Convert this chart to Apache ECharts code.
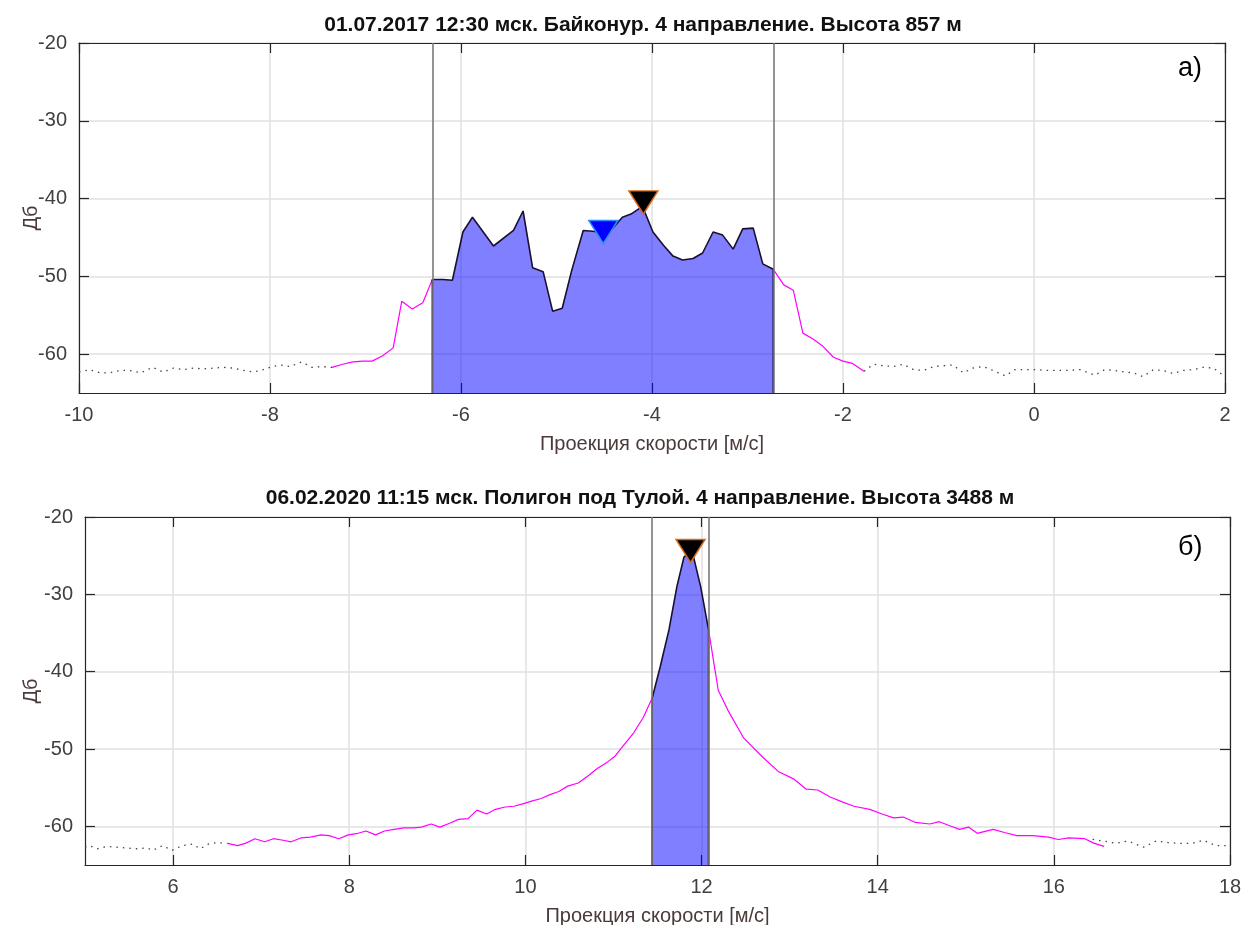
<!DOCTYPE html>
<html>
<head>
<meta charset="utf-8">
<title>Спектры</title>
<script src="https://cdn.jsdelivr.net/npm/echarts@6.0.0/dist/echarts.min.js"></script>
<style>
  html, body { margin: 0; padding: 0; background: #fff; }
  #chart { width: 1243px; height: 925px; }
</style>
</head>
<body>
<div id="chart"></div>
<script>
// ---------- а) Байконур, 01.07.2017 ----------
const titleA = '01.07.2017 12:30 мск. Байконур. 4 направление. Высота 857 м';
const xTicksA = [-10, -8, -6, -4, -2, 0, 2];
const yTicks = [-60, -50, -40, -30, -20];
// шум (точками) слева и справа
const noiseLeftA = [[-10.00,-62.3],[-9.89,-62.0],[-9.78,-62.4],[-9.68,-62.4],[-9.57,-62.1],[-9.47,-62.1],[-9.35,-62.4],[-9.23,-61.7],[-9.12,-62.3],[-9.01,-61.8],[-8.91,-62.0],[-8.80,-61.8],[-8.70,-61.9],[-8.59,-61.8],[-8.49,-61.7],[-8.38,-61.8],[-8.28,-62.1],[-8.17,-62.3],[-8.07,-62.0],[-7.98,-61.6],[-7.89,-61.4],[-7.79,-61.6],[-7.67,-61.0],[-7.56,-61.7],[-7.46,-61.6],[-7.35,-61.7]];
const noiseRightA = [[-1.78,-62.2],[-1.68,-61.3],[-1.58,-61.5],[-1.47,-61.6],[-1.37,-61.3],[-1.26,-62.0],[-1.16,-62.1],[-1.05,-61.6],[-0.95,-61.5],[-0.85,-61.4],[-0.74,-62.4],[-0.64,-61.8],[-0.53,-61.6],[-0.43,-62.1],[-0.30,-62.8],[-0.20,-62.0],[-0.08,-62.0],[0.03,-62.0],[0.13,-62.1],[0.24,-62.1],[0.34,-62.1],[0.48,-62.0],[0.64,-62.7],[0.74,-62.0],[0.85,-62.1],[0.95,-62.3],[1.04,-62.4],[1.14,-62.9],[1.25,-62.0],[1.35,-62.1],[1.46,-62.5],[1.56,-62.1],[1.67,-62.0],[1.77,-61.7],[1.88,-61.8],[1.98,-62.7]];
// спектр вне окна (пурпурный)
const specLeftA = [[-7.35,-61.7],[-7.24,-61.3],[-7.13,-61.0],[-7.03,-60.9],[-6.93,-60.9],[-6.82,-60.2],[-6.71,-59.2],[-6.62,-53.2],[-6.51,-54.2],[-6.40,-53.4],[-6.30,-50.4]];
const specRightA = [[-2.73,-49.1],[-2.62,-51.1],[-2.52,-51.8],[-2.42,-57.3],[-2.31,-58.1],[-2.21,-59.0],[-2.10,-60.4],[-2.00,-60.9],[-1.90,-61.2],[-1.78,-62.2]];
// спектр в окне (заливка)
const windowA = [[-6.30,-50.4],[-6.19,-50.4],[-6.09,-50.5],[-5.98,-44.3],[-5.88,-42.4],[-5.66,-46.1],[-5.45,-44.1],[-5.35,-41.6],[-5.25,-48.9],[-5.14,-49.4],[-5.04,-54.5],[-4.94,-54.1],[-4.84,-49.2],[-4.72,-44.1],[-4.62,-44.2],[-4.51,-44.4],[-4.41,-43.8],[-4.31,-42.4],[-4.22,-42.0],[-4.10,-41.0],[-3.99,-44.3],[-3.88,-46.0],[-3.78,-47.4],[-3.68,-47.9],[-3.57,-47.7],[-3.47,-47.0],[-3.36,-44.3],[-3.26,-44.7],[-3.15,-46.5],[-3.05,-43.9],[-2.94,-43.8],[-2.84,-48.4],[-2.73,-49.1]];
const bordersA = [-6.30, -2.73];
const peakA = [[-4.09, -40.5]];
const peak2A = [[-4.51, -44.3]];

// ---------- б) Полигон под Тулой, 06.02.2020 ----------
const titleB = '06.02.2020 11:15 мск. Полигон под Тулой. 4 направление. Высота 3488 м';
const xTicksB = [6, 8, 10, 12, 14, 16, 18];
const noiseLeftB = [[5.00,-62.7],[5.05,-62.5],[5.14,-62.9],[5.25,-62.6],[5.36,-62.7],[5.47,-62.8],[5.59,-62.9],[5.70,-62.8],[5.77,-63.1],[5.88,-62.5],[5.99,-63.1],[6.10,-62.5],[6.22,-62.3],[6.31,-62.9],[6.40,-62.3],[6.50,-62.1],[6.62,-62.2]];
const noiseRightB = [[16.44,-61.7],[16.57,-61.9],[16.71,-62.2],[16.84,-61.9],[17.02,-62.7],[17.16,-61.9],[17.30,-62.1],[17.43,-62.2],[17.57,-62.2],[17.70,-61.8],[17.84,-62.5],[17.97,-62.5],[18.00,-62.4]];
const specLeftB = [[6.62,-62.2],[6.73,-62.5],[6.82,-62.2],[6.93,-61.6],[7.04,-62.0],[7.14,-61.6],[7.25,-61.8],[7.34,-62.0],[7.45,-61.5],[7.56,-61.4],[7.68,-61.1],[7.77,-61.2],[7.88,-61.6],[7.99,-61.1],[8.10,-60.9],[8.19,-60.6],[8.30,-61.1],[8.40,-60.6],[8.51,-60.4],[8.62,-60.2],[8.73,-60.2],[8.82,-60.1],[8.93,-59.7],[9.03,-60.1],[9.14,-59.6],[9.24,-59.1],[9.35,-59.0],[9.45,-57.9],[9.56,-58.4],[9.66,-57.8],[9.77,-57.5],[9.87,-57.4],[9.97,-57.1],[10.08,-56.7],[10.18,-56.4],[10.28,-55.9],[10.38,-55.5],[10.48,-54.8],[10.60,-54.4],[10.71,-53.5],[10.82,-52.5],[10.93,-51.7],[11.02,-50.9],[11.11,-49.6],[11.23,-47.9],[11.34,-45.9],[11.44,-43.4]];
const specRightB = [[12.08,-34.6],[12.14,-38.9],[12.19,-42.4],[12.30,-45.0],[12.48,-48.6],[12.69,-51.0],[12.87,-52.9],[13.05,-53.9],[13.19,-55.2],[13.32,-55.3],[13.46,-56.2],[13.59,-56.8],[13.73,-57.4],[13.91,-57.8],[14.05,-58.4],[14.18,-58.9],[14.29,-58.8],[14.43,-59.5],[14.59,-59.7],[14.70,-59.4],[14.81,-59.9],[14.93,-60.4],[15.03,-60.1],[15.13,-60.9],[15.31,-60.4],[15.44,-60.8],[15.58,-61.2],[15.76,-61.2],[15.94,-61.4],[16.05,-61.7],[16.17,-61.5],[16.35,-61.6],[16.46,-62.2],[16.57,-62.6]];
const windowB = [[11.44,-43.4],[11.53,-39.4],[11.63,-34.6],[11.72,-29.0],[11.80,-25.2],[11.85,-24.7],[11.91,-25.2],[11.99,-29.0],[12.08,-34.6]];
const bordersB = [11.44, 12.08];
const peakB = [[11.875, -24.4]];

const Y_MIN = -65, Y_MAX = -20;
const FONT = 'Liberation Sans';
const AXIS_COLOR = '#262626';

function mainX(grid, min, max, ticks, gap) {
  return {
    type: 'value', gridIndex: grid, min: min, max: max,
    axisLine: { show: true, onZero: false, lineStyle: { color: AXIS_COLOR, width: 1.2 } },
    axisTick: { show: true, inside: true, length: 10, customValues: ticks, lineStyle: { color: AXIS_COLOR, width: 1.2 } },
    axisLabel: { customValues: ticks, color: '#404040', fontSize: 20, fontFamily: FONT, margin: 12 },
    splitLine: { show: true, lineStyle: { color: '#e0e0e0', width: 1.5 } },
    name: 'Проекция скорости [м/с]', nameLocation: 'middle', nameGap: gap, nameMoveOverlap: false,
    nameTextStyle: { color: '#4a3a3a', fontSize: 20, fontFamily: FONT }
  };
}
function boxX(grid, min, max, ticks) {
  return {
    type: 'value', gridIndex: grid, position: 'top', min: min, max: max,
    axisLine: { show: true, onZero: false, lineStyle: { color: AXIS_COLOR, width: 1.2 } },
    axisTick: { show: true, inside: true, length: 10, customValues: ticks, lineStyle: { color: AXIS_COLOR, width: 1.2 } },
    axisLabel: { show: false }, splitLine: { show: false }
  };
}
function mainY(grid, gap) {
  return {
    type: 'value', gridIndex: grid, min: Y_MIN, max: Y_MAX,
    axisLine: { show: true, onZero: false, lineStyle: { color: AXIS_COLOR, width: 1.2 } },
    axisTick: { show: true, inside: true, length: 10, customValues: yTicks, lineStyle: { color: AXIS_COLOR, width: 1.2 } },
    axisLabel: { customValues: yTicks, color: '#404040', fontSize: 20, fontFamily: FONT, margin: 12 },
    splitLine: { show: true, lineStyle: { color: '#e0e0e0', width: 1.5 } },
    name: 'Дб', nameLocation: 'middle', nameGap: gap, nameMoveOverlap: false,
    nameTextStyle: { color: '#4a3a3a', fontSize: 20, fontFamily: FONT }
  };
}
function boxY(grid) {
  return {
    type: 'value', gridIndex: grid, position: 'right', min: Y_MIN, max: Y_MAX,
    axisLine: { show: true, onZero: false, lineStyle: { color: AXIS_COLOR, width: 1.2 } },
    axisTick: { show: true, inside: true, length: 10, customValues: yTicks, lineStyle: { color: AXIS_COLOR, width: 1.2 } },
    axisLabel: { show: false }, splitLine: { show: false }
  };
}

// серии одного графика
function panelSeries(ax, d) {
  const s = [];
  const dotted = { color: '#444', width: 1.3, type: [1.5, 5] };
  [d.noiseLeft, d.noiseRight].forEach(function (n) {
    s.push({ type: 'line', xAxisIndex: ax, yAxisIndex: ax, data: n, symbol: 'none', silent: true, lineStyle: dotted, z: 2 });
  });
  [d.specLeft, d.specRight].forEach(function (n) {
    s.push({ type: 'line', xAxisIndex: ax, yAxisIndex: ax, data: n, symbol: 'none', silent: true, lineStyle: { color: '#ff00ff', width: 1.2 }, z: 3 });
  });
  const w = d.window;
  const fill = [[w[0][0], Y_MIN]].concat(w, [[w[w.length - 1][0], Y_MIN]]);
  s.push({
    type: 'line', xAxisIndex: ax, yAxisIndex: ax, data: fill, symbol: 'none', silent: true, z: 4,
    lineStyle: { color: '#1a1030', width: 1.6 },
    areaStyle: { color: 'rgba(0,0,255,0.5)', origin: 'start', opacity: 1 },
    markLine: {
      silent: true, symbol: 'none', label: { show: false },
      lineStyle: { color: '#7a7a7a', width: 1.6, type: 'solid' },
      data: d.borders.map(function (b) { return { xAxis: b }; })
    }
  });
  d.peaks.forEach(function (p) {
    s.push({
      type: 'scatter', xAxisIndex: ax, yAxisIndex: ax, data: p.data, silent: true, z: 6,
      symbol: 'triangle', symbolRotate: 180, symbolSize: [29, 23],
      itemStyle: { color: p.fill, borderColor: p.edge, borderWidth: 1.5, opacity: 1 }
    });
  });
  return s;
}

const chart = echarts.init(document.getElementById('chart'), null, { renderer: 'canvas' });
const option = {
  animation: false,
  backgroundColor: '#fff',
  title: [
    { text: titleA, left: 643, top: 15, textAlign: 'center', padding: 0,
      textStyle: { fontSize: 21, fontWeight: 'bold', fontFamily: FONT, color: '#111' } },
    { text: titleB, left: 640, top: 488, textAlign: 'center', padding: 0,
      textStyle: { fontSize: 21, fontWeight: 'bold', fontFamily: FONT, color: '#111' } }
  ],
  grid: [
    { left: 79, top: 43, width: 1146, height: 350, outerBoundsMode: 'none', containLabel: false },
    { left: 85, top: 517, width: 1145, height: 348, outerBoundsMode: 'none', containLabel: false }
  ],
  xAxis: [
    mainX(0, -10, 2, xTicksA, 41), boxX(0, -10, 2, xTicksA),
    mainX(1, 5, 18, xTicksB, 41), boxX(1, 5, 18, xTicksB)
  ],
  yAxis: [
    mainY(0, 38), boxY(0),
    mainY(1, 44), boxY(1)
  ],
  graphic: [
    { type: 'text', left: 1178, top: 55, style: { text: 'а)', fontSize: 27, fontFamily: FONT, fill: '#000' } },
    { type: 'text', left: 1178, top: 534, style: { text: 'б)', fontSize: 27, fontFamily: FONT, fill: '#000' } }
  ],
  series: panelSeries(0, {
    noiseLeft: noiseLeftA, noiseRight: noiseRightA, specLeft: specLeftA, specRight: specRightA,
    window: windowA, borders: bordersA,
    peaks: [{ data: peak2A, fill: '#0000ff', edge: '#2e8bff' }, { data: peakA, fill: '#000000', edge: '#d2691e' }]
  }).concat(panelSeries(2, {
    noiseLeft: noiseLeftB, noiseRight: noiseRightB, specLeft: specLeftB, specRight: specRightB,
    window: windowB, borders: bordersB,
    peaks: [{ data: peakB, fill: '#000000', edge: '#d2691e' }]
  }))
};
chart.setOption(option);
</script>
</body>
</html>
